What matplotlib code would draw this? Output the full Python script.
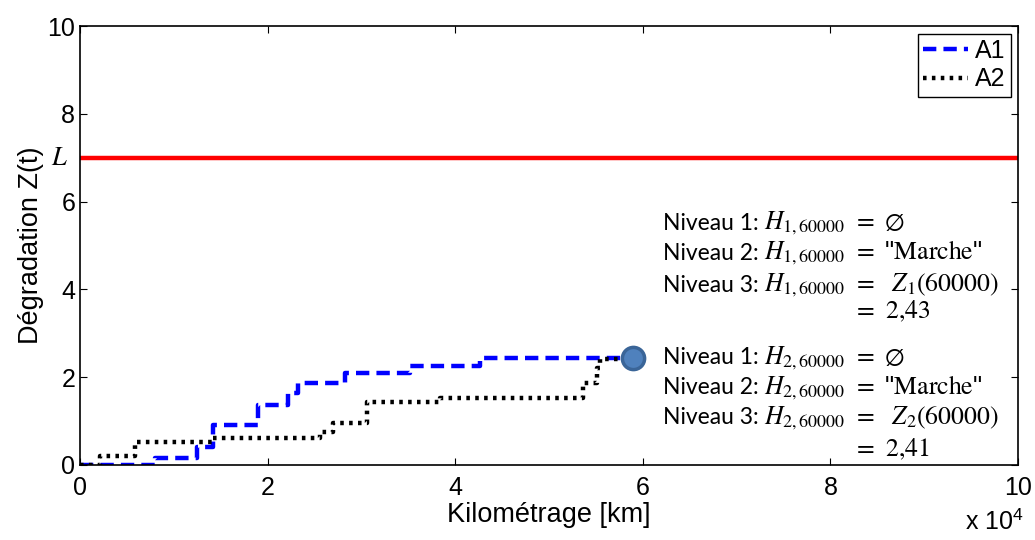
import matplotlib
matplotlib.use('Agg')
import matplotlib.pyplot as plt
import matplotlib.ticker as ticker

# step data (km, Z)
a1_km = [0, 8000, 12500, 14200, 19000, 22200, 23200, 28300, 35200, 42600, 59000]
a1_z = [0, 0.16, 0.41, 0.91, 1.37, 1.64, 1.87, 2.09, 2.25, 2.43, 2.43]
a2_km = [0, 2100, 5900, 14200, 25600, 27000, 30600, 38400, 53600, 55100, 55400, 59000]
a2_z = [0, 0.20, 0.52, 0.61, 0.75, 0.96, 1.43, 1.52, 1.87, 2.20, 2.41, 2.41]
seuil_L = 7
point_km, point_z = 59000, 2.43

niveaux = ['Niveau 1:', 'Niveau 2:', 'Niveau 3:']
eq_1 = ['$H_{1,60000}$ $=$ $\\emptyset$',
        '$H_{1,60000}$ $=$ "$\\mathrm{Marche}$"',
        '$H_{1,60000}$ $=$  $Z_1(60000)$',
        '$=$ $2{,}43$']
eq_2 = ['$H_{2,60000}$ $=$ $\\emptyset$',
        '$H_{2,60000}$ $=$ "$\\mathrm{Marche}$"',
        '$H_{2,60000}$ $=$  $Z_2(60000)$',
        '$=$ $2{,}41$']

plt.rcParams['mathtext.fontset'] = 'stix'
plt.rcParams['font.family'] = 'Liberation Sans'

fig = plt.figure(figsize=(10.35, 5.4), dpi=100)
ax = fig.add_axes([80/1035, 75/540, 938/1035, 439/540])

ax.axhline(seuil_L, color='red', lw=3.2)
ax.plot(a1_km, a1_z, drawstyle='steps-post', color='blue', ls=(0, (3, 1.6)), lw=3.2, label='A1')
ax.plot(a2_km, a2_z, drawstyle='steps-post', color='black', ls=(0, (0.8, 1.2)), lw=3.2, label='A2')
ax.plot(point_km, point_z, 'o', ms=16, mfc='#4f81bd', mec='#3a6598', mew=2.5, zorder=5)

ax.set_xlim(0, 100000)
ax.set_ylim(0, 10)
ax.set_xticks(range(0, 100001, 20000))
ax.set_yticks(range(0, 11, 2))
ax.xaxis.set_major_formatter(ticker.FuncFormatter(lambda v, p: '%g' % (v / 1e4)))
ax.tick_params(direction='in', top=True, right=True, labelsize=18, length=5, width=0.8)
ax.tick_params(axis='x', pad=8)
for s in ax.spines.values():
    s.set_linewidth(1.2)

ax.set_xlabel('Kilométrage [km]', fontsize=19.5, labelpad=1)
ax.set_ylabel('Dégradation Z(t)', fontsize=19.5, labelpad=2)
ax.text(-0.022, seuil_L, '$L$', transform=ax.get_yaxis_transform(), ha='center', va='center', fontsize=19)
fig.text(1024/1035, 1 - 522/540, 'x 10$^{\\mathregular{4}}$', ha='right', va='center', fontsize=18)

leg = ax.legend(loc='upper right', fontsize=18, handlelength=1.8, handletextpad=0.3,
                borderpad=0.2, labelspacing=0.2, fancybox=False, framealpha=1,
                borderaxespad=0.3)
leg.get_frame().set_edgecolor('black')
leg.get_frame().set_linewidth(1.0)

ys1 = [223, 253, 285, 311]
ys2 = [358, 388, 418, 449]
for eqs, ys in [(eq_1, ys1), (eq_2, ys2)]:
    for i, y in enumerate(ys):
        if i < 3:
            fig.text(663/1035, 1 - y/540, niveaux[i], ha='left', va='center', fontsize=16.5, family='Lato')
            fig.text(764/1035, 1 - y/540, eqs[i], ha='left', va='center', fontsize=18.5)
        else:
            fig.text(853/1035, 1 - y/540, eqs[i], ha='left', va='center', fontsize=18.5)

fig.savefig('out.png', dpi=100)
